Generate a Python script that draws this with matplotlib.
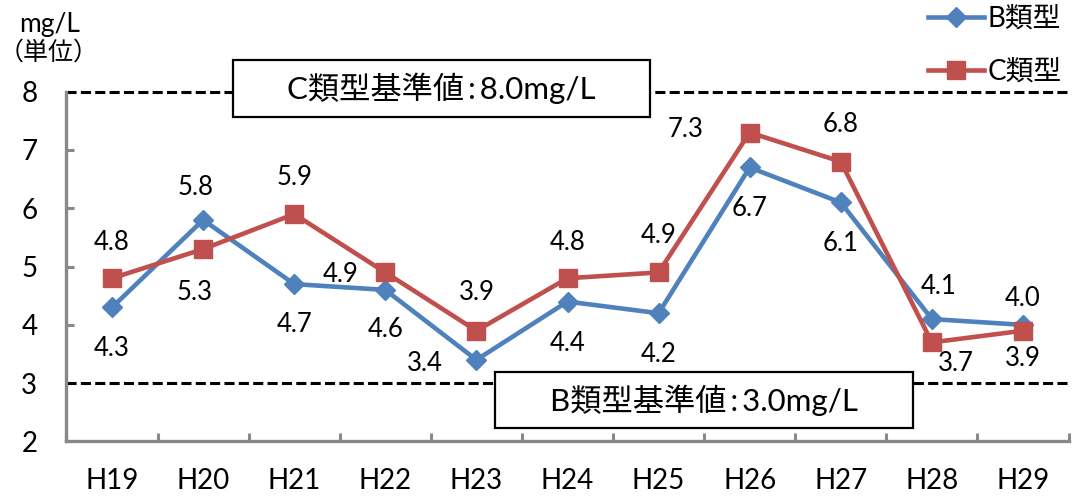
import matplotlib
matplotlib.use("Agg")
import matplotlib.pyplot as plt
from matplotlib.patches import Rectangle
from matplotlib.ticker import FixedLocator

plt.rcParams['font.family'] = ['Lato', 'Noto Sans CJK JP', 'DejaVu Sans']

# data
years = ['H19', 'H20', 'H21', 'H22', 'H23', 'H24', 'H25', 'H26', 'H27', 'H28', 'H29']
b_type = [4.3, 5.8, 4.7, 4.6, 3.4, 4.4, 4.2, 6.7, 6.1, 4.1, 4.0]
c_type = [4.8, 5.3, 5.9, 4.9, 3.9, 4.8, 4.9, 7.3, 6.8, 3.7, 3.9]
b_std = 3.0
c_std = 8.0

# label offsets in pixels (dx, dy)
b_off = [(0, -41), (-8, 32), (0, -40), (0, -40), (-52, -4), (0, -42),
         (0, -41), (0, -41), (0, -41), (7, 33), (0, 26)]
c_off = [(0, 36), (-9, -43), (0, 37), (-45, -2), (0, 38), (0, 36),
         (0, 37), (-64, 3), (0, 37), (24, -21), (0, -28)]

blue = '#4F81BD'
red = '#C0504D'
gray = '#898989'

fig = plt.figure(figsize=(10.74, 4.97), dpi=100)
ax = fig.add_axes([0.0619, 0.1117, 0.933, 0.7038])

x = list(range(len(years)))
ax.plot(x, b_type, color=blue, lw=3.3, marker='D', ms=10, label='B類型', zorder=5)
ax.plot(x, c_type, color=red, lw=3.3, marker='s', ms=13, label='C類型', zorder=6)

for i in x:
    ax.annotate(f'{b_type[i]:.1f}', (i, b_type[i]), xytext=b_off[i], textcoords='offset pixels',
                ha='center', va='center', fontsize=18.5, zorder=7)
    ax.annotate(f'{c_type[i]:.1f}', (i, c_type[i]), xytext=c_off[i], textcoords='offset pixels',
                ha='center', va='center', fontsize=18.5, zorder=7)

# standard lines
for s in (b_std, c_std):
    ax.axhline(s, color='black', lw=2.2, ls=(0, (3.3, 1.4)), clip_on=False, zorder=2)

# standard boxes
boxes = [((0.166, 0.928), 0.416, 0.163, 'C類型基準値\u2009:\u20098.0mg/L'),
         ((0.4276, 0.0377), 0.4174, 0.1618, 'B類型基準値\u2009:\u20093.0mg/L')]
for (bx, by), w, h, txt in boxes:
    ax.add_patch(Rectangle((bx, by), w, h, transform=ax.transAxes, facecolor='white',
                           edgecolor='black', lw=1.6, clip_on=False, zorder=3))
    ax.text(bx + w / 2, by + h / 2, txt, transform=ax.transAxes, ha='center', va='center',
            fontsize=22.5, zorder=4)

ax.set_xlim(-0.5, len(years) - 0.5)
ax.set_ylim(2, 8)
ax.set_yticks(range(2, 9))
ax.set_xticks(x)
ax.set_xticklabels(years)
ax.xaxis.set_minor_locator(FixedLocator([i - 0.5 for i in range(len(years) + 1)]))

for side in ('top', 'right'):
    ax.spines[side].set_visible(False)
for side in ('left', 'bottom'):
    ax.spines[side].set_color(gray)
    ax.spines[side].set_linewidth(2.4)

ax.tick_params(axis='y', direction='in', length=6, width=2.2, color=gray, labelsize=20, pad=21)
ax.tick_params(axis='x', which='major', length=0, labelsize=20, pad=19)
ax.tick_params(axis='x', which='minor', direction='in', length=6, width=2.2, color=gray)

fig.text(0.0465, 0.950, 'mg/L', ha='center', va='center', fontsize=19)
fig.text(0.045, 0.897, '（単位）', ha='center', va='center', fontsize=18)

fig.legend(loc='upper left', bbox_to_anchor=(928 / 1074, 1 - 6 / 497), frameon=False,
           fontsize=20, handlelength=2.0, handletextpad=0.15, labelspacing=0.95,
           borderpad=0, borderaxespad=0)

fig.savefig('out.png', dpi=100)
